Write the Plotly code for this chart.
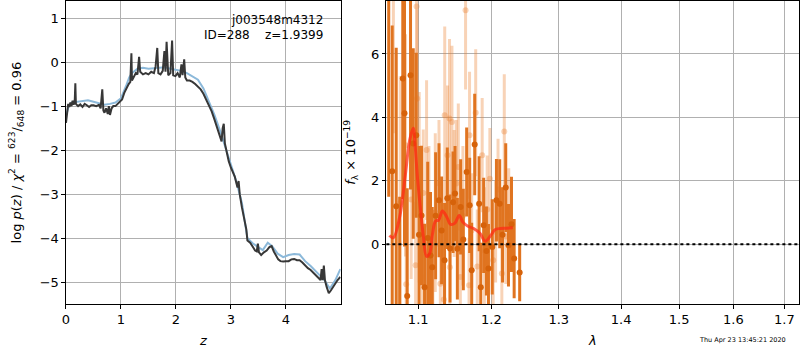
import plotly.graph_objects as go

# ---------------- Left panel: log p(z) ----------------
z_obs = [0.00, 0.02, 0.04, 0.06, 0.08, 0.10, 0.12, 0.14, 0.16, 0.17, 0.18, 0.22, 0.26, 0.30,
         0.34, 0.38, 0.42, 0.46, 0.50, 0.55, 0.60, 0.63, 0.66, 0.68, 0.70, 0.73, 0.76, 0.78,
         0.80, 0.83, 0.86, 0.90, 0.94, 0.98, 1.02, 1.06, 1.10, 1.14, 1.17, 1.19, 1.20, 1.24,
         1.27, 1.30, 1.33, 1.35, 1.40, 1.45, 1.50, 1.55, 1.60, 1.63, 1.66, 1.68, 1.72, 1.76,
         1.79, 1.81, 1.83, 1.86, 1.90, 1.93, 1.95, 1.99, 2.03, 2.07, 2.10, 2.12, 2.15, 2.17,
         2.20, 2.25, 2.30, 2.35, 2.40, 2.45, 2.50, 2.55, 2.60, 2.65, 2.70, 2.75, 2.80, 2.83,
         2.85, 2.87, 2.89, 2.92, 2.96, 3.00, 3.04, 3.07, 3.10, 3.12, 3.14, 3.16, 3.20, 3.24,
         3.28, 3.30, 3.35, 3.40, 3.44, 3.47, 3.49, 3.51, 3.55, 3.60, 3.65, 3.70, 3.74, 3.78,
         3.82, 3.86, 3.90, 3.95, 4.00, 4.05, 4.10, 4.15, 4.20, 4.25, 4.30, 4.35, 4.40, 4.45,
         4.50, 4.55, 4.60, 4.63, 4.65, 4.67, 4.69, 4.71, 4.74, 4.78, 4.82, 4.86, 4.90, 4.94,
         4.99]
logp_obs = [-1.38, -1.15, -0.95, -1.02, -0.92, -1.00, -0.88, -0.97, -0.85, -0.48, -0.95, -1.00,
            -0.96, -1.02, -0.95, -0.98, -1.02, -0.98, -0.98, -1.00, -0.97, -1.05, -0.62, -1.10,
            -1.15, -1.05, -1.18, -1.00, -1.20, -1.05, -1.00, -1.00, -0.95, -0.92, -0.85, -0.70,
            -0.58, -0.50, -0.45, 0.20, -0.42, -0.30, -0.25, -0.28, 0.12, -0.22, -0.28, -0.25,
            -0.28, -0.22, -0.25, -0.10, 0.32, -0.25, -0.28, -0.20, 0.25, -0.22, 0.46, -0.30,
            -0.25, 0.49, -0.30, -0.32, -0.25, -0.35, -0.05, -0.30, 0.06, -0.35, -0.42, -0.42,
            -0.45, -0.50, -0.55, -0.62, -0.72, -0.85, -0.98, -1.12, -1.30, -1.48, -1.65, -1.80,
            -1.50, -1.40, -1.85, -2.05, -2.25, -2.40, -2.52, -2.60, -2.75, -2.85, -2.70, -3.00,
            -3.30, -3.55, -3.80, -4.05, -4.10, -4.20, -4.28, -4.30, -4.12, -4.32, -4.38, -4.32,
            -4.28, -4.20, -4.18, -4.30, -4.40, -4.48, -4.52, -4.53, -4.52, -4.52, -4.48, -4.47,
            -4.50, -4.50, -4.55, -4.62, -4.68, -4.72, -4.78, -4.85, -4.92, -4.95, -4.70, -4.95,
            -4.62, -4.95, -5.10, -5.25, -5.18, -5.10, -5.05, -4.95, -4.88]

z_fit = [0.00, 0.05, 0.10, 0.20, 0.30, 0.40, 0.50, 0.60, 0.70, 0.80, 0.90, 1.00, 1.05, 1.10,
         1.15, 1.20, 1.30, 1.40, 1.50, 1.60, 1.70, 1.80, 1.90, 2.00, 2.10, 2.20, 2.30, 2.40,
         2.50, 2.60, 2.70, 2.80, 2.90, 3.00, 3.10, 3.20, 3.25, 3.30, 3.40, 3.50, 3.58, 3.67,
         3.75, 3.85, 3.95, 4.05, 4.15, 4.25, 4.35, 4.45, 4.60, 4.70, 4.80, 4.90, 4.99]
logp_fit = [-1.22, -1.00, -0.92, -0.90, -0.88, -0.87, -0.90, -0.93, -0.97, -0.95, -0.92, -0.82,
            -0.68, -0.52, -0.35, -0.25, -0.15, -0.13, -0.15, -0.14, -0.12, -0.12, -0.15, -0.17,
            -0.20, -0.25, -0.32, -0.40, -0.60, -0.88, -1.20, -1.55, -1.95, -2.35, -2.72, -3.20,
            -3.60, -4.00, -4.12, -4.20, -4.27, -4.10, -4.18, -4.35, -4.43, -4.38, -4.36, -4.37,
            -4.52, -4.63, -4.81, -4.95, -5.14, -4.95, -4.70]

z_ticks = [0, 1, 2, 3, 4]
logp_ticks = [-5, -4, -3, -2, -1, 0, 1]

# ---------------- Right panel: spectrum ----------------
wave_dark = [1.0621, 1.0665, 1.0716, 1.0760, 1.0800, 1.0822, 1.0857, 1.0900, 1.0935, 1.0974,
             1.1010, 1.1043, 1.1083, 1.1125, 1.1162, 1.1185, 1.1230, 1.1275, 1.1310, 1.1350,
             1.1387, 1.1424, 1.1465, 1.1492, 1.1524, 1.1569, 1.1606, 1.1652, 1.1694, 1.1722,
             1.1764, 1.1826, 1.1849, 1.1890, 1.1929, 1.1958, 1.2012, 1.2072, 1.2119, 1.2160,
             1.2206, 1.2246, 1.2290, 1.2329, 1.2410]
flux_dark = [9.0, 2.3, 1.2, -4.0, 5.23, 4.13, -1.63, 5.33, 3.18, 3.44,
             0.3, 0.91, -1.35, 0.2, -0.35, -0.72, 0.9, 1.39, 0.44, -0.5,
             1.45, -0.13, 1.33, 1.6, -0.14, 1.18, 0.15, 2.28, 1.23, -0.82,
             3.15, 1.28, -1.35, 0.6, -0.21, -0.76, -0.08, 1.39, 1.28, 0.3,
             1.79, -0.03, 0.63, -0.45, -0.89]
err_dark = [7.5, 4.6, 5.0, 5.5, 3.8, 4.2, 3.4, 3.6, 3.0, 2.6,
            2.8, 2.2, 2.0, 2.4, 2.0, 1.9, 2.0, 1.8, 1.7, 1.8,
            1.6, 1.7, 1.6, 1.5, 1.6, 1.5, 1.6, 1.4, 1.5, 1.5,
            1.6, 1.5, 1.4, 1.5, 1.4, 1.4, 1.5, 1.3, 1.4, 1.5,
            1.4, 1.3, 1.5, 1.25, 0.9]

wave_light = [1.0680, 1.0767, 1.0835, 1.0844, 1.0908, 1.0966, 1.0978, 1.0986, 1.1013, 1.1047,
              1.1066, 1.1110, 1.1141, 1.1193, 1.1225, 1.1275, 1.1293, 1.1340, 1.1352, 1.1390,
              1.1417, 1.1421, 1.1450, 1.1480, 1.1509, 1.1537, 1.1565, 1.1600, 1.1637, 1.1685,
              1.1692, 1.1722, 1.1778, 1.1800, 1.1869, 1.1900, 1.1940, 1.1978, 1.2025, 1.2060,
              1.2095, 1.2150, 1.2185, 1.2208, 1.2250]
flux_light = [9.5, 1.3, 3.12, -1.26, 1.41, -0.66, 7.5, 4.6, 1.8, -1.03,
              1.62, 2.97, 0.6, -0.72, 1.0, 1.92, -1.24, -1.74, 4.07, 2.81,
              3.97, -0.72, 3.86, 1.6, 1.92, 2.44, -1.03, 0.9, 7.38, -1.29,
              3.44, 0.44, 4.15, -0.7, 2.81, -0.2, 1.1, 2.07, -0.5, 0.4,
              1.73, -0.92, 3.56, 0.25, 0.9]
err_light = [6.0, 4.0, 3.5, 2.5, 2.5, 2.0, 3.0, 2.8, 3.0, 2.0,
             2.0, 2.2, 2.5, 1.8, 2.5, 2.0, 1.8, 1.8, 2.8, 2.2,
             2.5, 1.6, 2.4, 2.0, 2.0, 2.0, 1.8, 2.2, 2.5, 1.5,
             2.0, 1.8, 2.0, 1.8, 1.8, 2.0, 1.7, 1.6, 1.8, 1.6,
             1.6, 1.5, 1.8, 1.5, 1.5]

wave_model = [1.0630, 1.0680, 1.0760, 1.0830, 1.0890, 1.0935, 1.0960, 1.0990, 1.1030, 1.1070,
              1.1110, 1.1150, 1.1190, 1.1230, 1.1270, 1.1320, 1.1380, 1.1430, 1.1490, 1.1550,
              1.1600, 1.1670, 1.1750, 1.1840, 1.1910, 1.1990, 1.2050, 1.2130, 1.2210, 1.2310]
flux_model = [0.28, 0.21, 0.86, 2.12, 3.30, 3.66, 3.10, 2.10, 1.10, 0.20,
              -0.38, -0.29, 0.35, 0.74, 0.76, 1.05, 0.86, 0.63, 0.67, 0.91,
              0.70, 0.57, 0.50, 0.34, 0.10, 0.28, 0.46, 0.50, 0.51, 0.52]

wave_ticks = [1.1, 1.2, 1.3, 1.4, 1.5, 1.6, 1.7]
flux_ticks = [0, 2, 4, 6]

ORANGE = "rgb(224,116,32)"
ORANGE_LIGHT = "rgba(236,128,48,0.35)"
FONT = "DejaVu Sans"

W, H = 800, 350


def px(xp):
    return xp / W


def py(yp):
    return 1 - yp / H


fig = go.Figure()

fig.add_trace(go.Scatter(x=z_fit, y=logp_fit, mode="lines",
                         line=dict(color="rgb(140,185,218)", width=2),
                         xaxis="x", yaxis="y", showlegend=False))
fig.add_trace(go.Scatter(x=z_obs, y=logp_obs, mode="lines",
                         line=dict(color="rgb(55,55,55)", width=2),
                         xaxis="x", yaxis="y", showlegend=False))

fig.add_trace(go.Scatter(x=wave_light, y=flux_light, mode="markers",
                         marker=dict(color=ORANGE_LIGHT, size=6),
                         error_y=dict(type="data", array=err_light, thickness=3, width=0,
                                      color=ORANGE_LIGHT),
                         xaxis="x2", yaxis="y2", showlegend=False, cliponaxis=True))
fig.add_trace(go.Scatter(x=wave_dark, y=flux_dark, mode="markers",
                         marker=dict(color="rgb(214,98,10)", size=6),
                         error_y=dict(type="data", array=err_dark, thickness=3, width=0,
                                      color=ORANGE),
                         xaxis="x2", yaxis="y2", showlegend=False, cliponaxis=True))
fig.add_trace(go.Scatter(x=wave_model, y=flux_model, mode="lines", line_shape="spline",
                         line=dict(color="rgba(255,40,20,0.72)", width=3),
                         xaxis="x2", yaxis="y2", showlegend=False))

fig.add_shape(type="line", xref="x2 domain", x0=0, x1=1, yref="y2", y0=0, y1=0,
              line=dict(color="black", width=2, dash="dot"), layer="above")

axis_common = dict(showline=True, linecolor="black", linewidth=1, mirror=True,
                   ticks="outside", ticklen=3.5, tickcolor="black", showgrid=True,
                   gridcolor="#b0b0b0", gridwidth=1, zeroline=False,
                   tickfont=dict(family=FONT, size=13, color="black"))

ydom = [py(304.3), py(1)]
fig.update_layout(
    width=W, height=H, margin=dict(l=0, r=0, t=0, b=0),
    paper_bgcolor="white", plot_bgcolor="white", hovermode=False,
    font=dict(family=FONT, size=13, color="black"),
    xaxis=dict(domain=[px(62.3), px(338.3)], range=[0, 4.995], tickvals=z_ticks,
               anchor="y", **axis_common),
    yaxis=dict(domain=ydom, range=[-5.5, 1.386], tickvals=logp_ticks,
               anchor="x", **axis_common),
    xaxis2=dict(domain=[px(384.3), px(799.3)], type="log", range=[0.02495, 0.23816],
                tickvals=wave_ticks, ticktext=[str(t) for t in wave_ticks],
                anchor="y2", **axis_common),
    yaxis2=dict(domain=ydom, range=[-1.89, 7.67], tickvals=flux_ticks,
                anchor="x2", **axis_common),
)

ann = [
    dict(text="j003548m4312", x=px(323), y=py(20), xanchor="right", yanchor="middle",
         font=dict(size=12)),
    dict(text="ID=288    z=1.9399", x=px(323), y=py(35), xanchor="right", yanchor="middle",
         font=dict(size=12)),
    dict(text="log <i>p</i>(<i>z</i>) / <i>χ</i><sup>2</sup> = <sup>623</sup>/<sub>648</sub> = 0.96",
         x=px(12), y=py(152.5), textangle=-90, xanchor="center", yanchor="middle",
         font=dict(size=13)),
    dict(text="<i>f</i><sub>λ</sub> × 10<sup>−19</sup>", x=px(348), y=py(152.5),
         textangle=-90, xanchor="center", yanchor="middle", font=dict(size=13)),
    dict(text="<i>z</i>", x=px(200), y=py(340), xanchor="center", yanchor="middle",
         font=dict(size=13)),
    dict(text="<i>λ</i>", x=px(591), y=py(340), xanchor="center", yanchor="middle",
         font=dict(size=13)),
    dict(text="Thu Apr 23 13:45:21 2020", x=px(788), y=py(340), xanchor="right",
         yanchor="middle", font=dict(size=6.5)),
]
for a in ann:
    a.update(xref="paper", yref="paper", showarrow=False)
fig.update_layout(annotations=ann)

fig.write_html("out.html", config={"displayModeBar": False, "staticPlot": True},
               post_script="document.body.style.margin='0';"
                           "document.body.style.overflow='hidden';")
